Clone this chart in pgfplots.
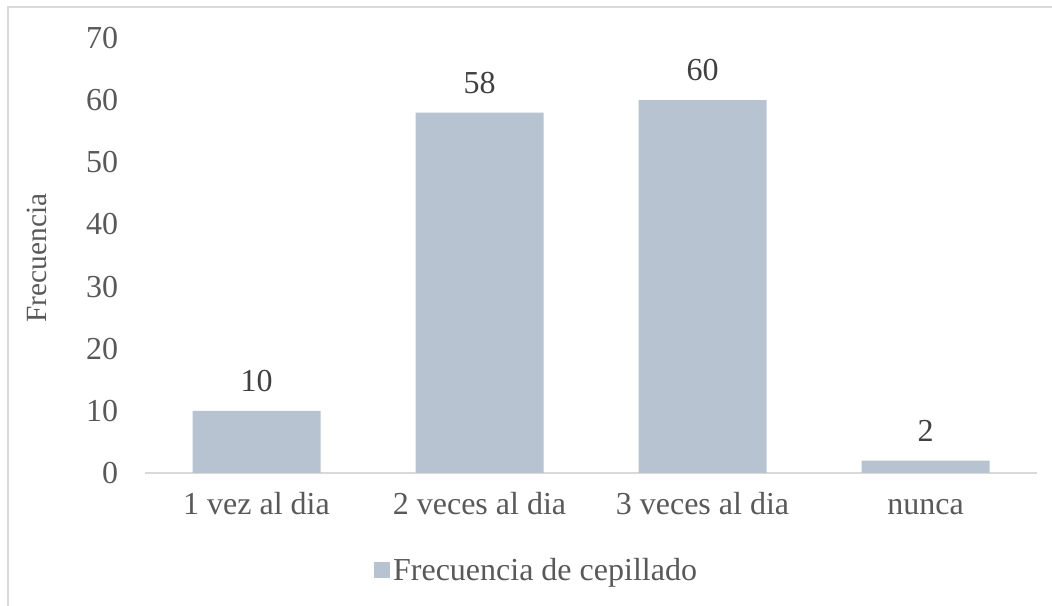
\documentclass[border=0pt]{standalone}
\usepackage{pgfplots}
\pgfplotsset{compat=1.18}
\usepackage{fontspec}
\setmainfont{Liberation Serif}
\definecolor{barcol}{HTML}{B7C3D0}
\definecolor{txtgray}{HTML}{595959}
\definecolor{lblgray}{HTML}{404040}
\definecolor{linegray}{HTML}{D9D9D9}
\begin{document}
\begin{tikzpicture}
\useasboundingbox (0,0) rectangle (789pt,454.5pt);
\draw[linegray, line width=1.2pt] (6pt,-5pt) -- (6pt,449.25pt) -- (800pt,449.25pt);
\begin{axis}[
  at={(108.75pt,99.75pt)}, anchor=south west,
  width=669pt, height=326.25pt, scale only axis,
  xmin=-0.5, xmax=3.5, ymin=0, ymax=70,
  ytick={0,10,...,70},
  xtick={0,1,2,3},
  xticklabels={1 vez al dia,2 veces al dia,3 veces al dia,nunca},
  axis x line=bottom, axis y line=left,
  x axis line style={draw=linegray, line width=1pt, -},
  y axis line style={draw=none},
  major tick length=0pt,
  /pgf/number format/assume math mode=true,
  tick label style={font=\fontsize{24pt}{28pt}\selectfont, text=txtgray},
  y tick label style={inner sep=0pt, xshift=-20pt},
  x tick label style={inner sep=0pt, text height=17pt, text depth=5pt, anchor=north, yshift=-14pt},
  ylabel={Frecuencia},
  ylabel style={at={(axis description cs:-0.121,0.494)}, anchor=center, rotate=0, font=\fontsize{22pt}{26pt}\selectfont, text=txtgray},
  legend style={at={(0.4395,-0.223)}, anchor=center, draw=none, fill=none,
    font=\fontsize{24pt}{28pt}\selectfont, text=txtgray, inner sep=0pt},
  legend image code/.code={\fill[barcol] (0pt,-6pt) rectangle (12pt,6pt);},
  nodes near coords,
  every node near coord/.append style={font=\fontsize{24pt}{28pt}\selectfont, text=lblgray, inner sep=0pt, yshift=14pt},
  point meta=y,
]
\addplot[ybar, bar width=96pt, fill=barcol, draw=none] coordinates {(0,10) (1,58) (2,60) (3,2)};
\addlegendentry{Frecuencia de cepillado}
\end{axis}
\end{tikzpicture}
\end{document}
